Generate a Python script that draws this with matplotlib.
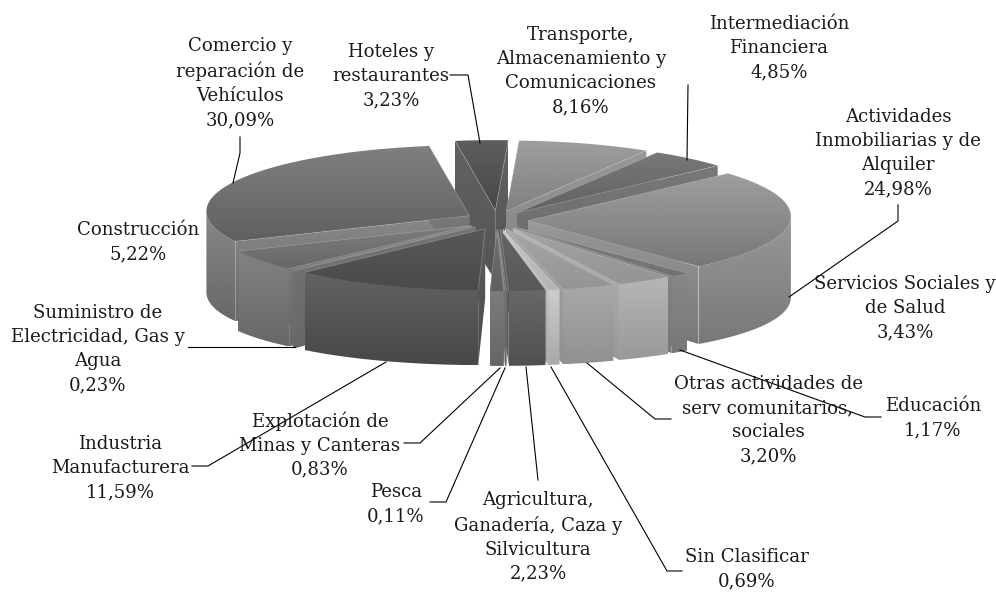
import numpy as np
import matplotlib
matplotlib.use("Agg")
import matplotlib.pyplot as plt
from matplotlib.patches import Polygon

# valores en orden horario desde arriba
nombres = ["Transporte,\nAlmacenamiento y\nComunicaciones", "Intermediación\nFinanciera",
           "Actividades\nInmobiliarias y de\nAlquiler", "Educación",
           "Servicios Sociales y\nde Salud", "Otras actividades de\nserv comunitarios,\nsociales",
           "Sin Clasificar", "Agricultura,\nGanadería, Caza y\nSilvicultura", "Pesca",
           "Explotación de\nMinas y Canteras", "Industria\nManufacturera",
           "Suministro de\nElectricidad, Gas y\nAgua", "Construcción",
           "Comercio y\nreparación de\nVehículos", "Hoteles y\nrestaurantes"]
valores = [8.16, 4.85, 24.98, 1.17, 3.43, 3.20, 0.69, 2.23, 0.11, 0.83, 11.59, 0.23, 5.22, 30.09, 3.23]
etiquetas = ["8,16%", "4,85%", "24,98%", "1,17%", "3,43%", "3,20%", "0,69%", "2,23%", "0,11%",
             "0,83%", "11,59%", "0,23%", "5,22%", "30,09%", "3,23%"]

# grises (arriba, abajo)
gris_tapa = [(0x9e, 0x80), (0x78, 0x62), (0x9e, 0x78), (0x7c, 0x72), (0xa2, 0x94), (0xa6, 0x94),
             (0xc4, 0xb4), (0x66, 0x58), (0x70, 0x68), (0x70, 0x60), (0x58, 0x4a), (0x74, 0x6c),
             (0x7c, 0x68), (0x80, 0x60), (0x5e, 0x48)]
gris_pared = [(0x98, 0x80), (0x78, 0x66), (0x98, 0x78), (0x88, 0x78), (0xb6, 0x98), (0xa8, 0x90),
              (0xcc, 0xa8), (0x68, 0x50), (0x78, 0x68), (0x7c, 0x66), (0x62, 0x48), (0x74, 0x68),
              (0x82, 0x68), (0x88, 0x68), (0x62, 0x54)]

# posicion de cada texto (centro en pixeles)
texto_xy = [(581, 70), (779, 47), (898, 152), (933, 417), (905, 307), (768, 419), (747, 568),
            (538, 536), (396, 503), (320, 444), (120, 467), (98, 348), (138, 241), (240, 82), (391, 75)]

# lineas guia
guias = [[(240, 137), (240, 153), (233, 183)],
         [(450, 75), (468, 75), (480, 143)],
         [(688, 85), (687, 160)],
         [(898, 205), (898, 221), (789, 297)],
         [(881, 417), (865, 417), (680, 350)],
         [(671, 419), (655, 419), (587, 363)],
         [(682, 571), (667, 571), (551, 367)],
         [(538, 480), (526, 367)],
         [(430, 502), (446, 502), (505, 368)],
         [(404, 443), (420, 443), (500, 368)],
         [(192, 466), (208, 466), (386, 362)],
         [(188, 347), (295, 347)]]

cx, cy = 497, 220
rx, ry, dy = 263, 66, -4.5
exp_x, exp_y = 31, 9.4
inicio = 2.8


def relleno(ax, pts, grises, z):
    # poligono con degradado vertical
    pts = np.array(pts)
    x0, x1 = pts[:, 0].min(), pts[:, 0].max()
    y0, y1 = pts[:, 1].min(), pts[:, 1].max()
    grad = np.linspace(grises[0], grises[1], 64).reshape(-1, 1)
    im = ax.imshow(grad, cmap="gray", vmin=0, vmax=255, extent=(x0, x1, y1, y0),
                   aspect="auto", zorder=z, interpolation="bilinear")
    pol = Polygon(pts, closed=True, transform=ax.transData, fc="none", ec="none")
    ax.add_patch(pol)
    im.set_clip_path(pol)


def borde(t):
    return 75 + 6 * np.sin(t) ** 2


fig = plt.figure(figsize=(9.96, 5.92), dpi=100)
ax = fig.add_axes([0, 0, 1, 1])

acum = np.cumsum([0] + valores) / sum(valores) * 360 + inicio
medios = np.radians((acum[:-1] + acum[1:]) / 2)
orden = np.argsort(-np.cos(medios))

z = 2
for i in orden:
    t1, t2 = np.radians(acum[i]), np.radians(acum[i + 1])
    m = medios[i]
    px = cx + exp_x * np.sin(m)
    py = cy - exp_y * np.cos(m)
    prof_c = 70
    ts = np.linspace(t1, t2, 80)
    arco = np.c_[px + rx * np.sin(ts), py - ry * np.cos(ts) + dy]

    # caras radiales
    for t in (t1, t2):
        ox, oy = px + rx * np.sin(t), py - ry * np.cos(t) + dy
        relleno(ax, [(px, py), (ox, oy), (ox, oy + borde(t)), (px, py + prof_c)], gris_pared[i], z)
        z += 1

    # pared exterior, solo lo que mira al frente
    a, b = max(t1, np.pi / 2), min(t2, 3 * np.pi / 2)
    if b > a:
        tf = np.linspace(a, b, 80)
        sup = np.c_[px + rx * np.sin(tf), py - ry * np.cos(tf) + dy]
        inf = np.c_[sup[:, 0], sup[:, 1] + borde(tf)]
        relleno(ax, np.r_[sup, inf[::-1]], gris_pared[i], z)
        z += 1

    # tapa
    tapa = np.r_[[[px, py]], arco]
    relleno(ax, tapa, gris_tapa[i], z)
    z += 1
    ax.plot([arco[-1, 0], px, arco[0, 0]], [arco[-1, 1], py, arco[0, 1]],
            color="#d0d0d0", lw=0.5, alpha=0.4, zorder=z)
    z += 1

for g in guias:
    xs, ys = zip(*g)
    ax.plot(xs, ys, color="black", lw=0.8, zorder=z)

for n, e, (x, y) in zip(nombres, etiquetas, texto_xy):
    ax.text(x, y + 1, n + "\n" + e, ha="center", va="center", family="DejaVu Serif",
            fontsize=13.1, color="#1a1a1a", linespacing=1.43, zorder=z + 1)

ax.set_xlim(0, 996)
ax.set_ylim(592, 0)
ax.axis("off")
fig.savefig("out.png", dpi=100, facecolor="white")
